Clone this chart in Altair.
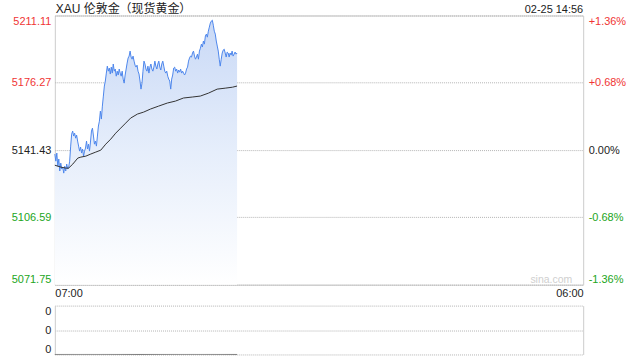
import altair as alt
import pandas as pd
import numpy as np

title_text = "XAU 伦敦金（现货黄金）"
stamp_text = "02-25 14:56"
watermark = "sina.com"
prev_close = 5141.43
y_ticks = [5071.75, 5106.59, 5141.43, 5176.27, 5211.11]
pct_labels = ["-1.36%", "-0.68%", "0.00%", "+0.68%", "+1.36%"]
x_ticks = [0, 1380]
x_labels = ["07:00", "06:00"]
last_minute = 476  # 14:56

prices = [
    5139.4, 5135.7, 5139.9, 5133.1, 5136.8, 5130.6, 5134.7, 5131.6, 5132.6, 5129.5,
    5133.1, 5130.6, 5134.2, 5131.6, 5132.6, 5135.7, 5143.5, 5149.7, 5151.3, 5148.7,
    5150.2, 5147.6, 5149.2, 5146.1, 5143.5, 5140.9, 5143.0, 5139.9, 5142.0, 5138.3,
    5140.9, 5142.5, 5146.1, 5142.0, 5144.5, 5140.9, 5145.6, 5151.3, 5152.8, 5148.7,
    5144.5, 5146.1, 5143.5, 5148.7, 5153.9, 5156.4, 5161.6, 5157.5, 5164.2, 5169.4,
    5174.6, 5177.2, 5181.3, 5184.9, 5182.3, 5183.9, 5180.8, 5184.4, 5181.3, 5186.0,
    5182.3, 5183.4, 5179.7, 5182.3, 5180.3, 5183.4, 5181.3, 5179.7, 5182.3, 5178.2,
    5176.1, 5180.3, 5183.4, 5186.5, 5189.1, 5190.1, 5192.7, 5189.6, 5188.5, 5190.1,
    5187.5, 5185.4, 5184.4, 5185.4, 5182.3, 5180.8, 5177.2, 5173.0, 5176.1, 5182.3,
    5187.5, 5186.0, 5183.4, 5182.3, 5184.9, 5181.3, 5184.4, 5186.0, 5183.4, 5182.3,
    5184.4, 5187.5, 5184.9, 5183.4, 5186.0, 5187.5, 5184.4, 5182.9, 5186.0, 5187.5,
    5184.9, 5182.3, 5181.3, 5182.3, 5179.7, 5178.2, 5177.2, 5173.0, 5178.2, 5180.3,
    5183.9, 5184.4, 5182.3, 5183.4, 5181.3, 5182.9, 5181.8, 5183.4, 5181.3, 5182.3,
    5181.3, 5180.3, 5181.3, 5183.4, 5184.4, 5187.5, 5189.1, 5190.1, 5189.6, 5191.7,
    5192.7, 5190.1, 5188.5, 5189.6, 5191.1, 5188.5, 5192.7, 5194.2, 5196.3, 5194.8,
    5197.9, 5196.3, 5200.5, 5201.5, 5199.9, 5203.0, 5205.1, 5207.2, 5208.2, 5208.7,
    5206.1, 5203.0, 5201.5, 5197.9, 5195.3, 5192.7, 5188.5, 5184.9, 5188.5, 5191.7,
    5193.2, 5193.7, 5191.7, 5189.6, 5192.2, 5191.7, 5189.6, 5191.7, 5190.6, 5192.7,
    5190.1, 5191.1, 5192.2, 5191.1, 5191.7,
]

avg_minutes = [0, 16, 29, 36, 47, 60, 68, 81, 94, 107, 120, 133, 146, 159, 172, 185,
               198, 216, 232, 250, 271, 294, 315, 336, 359, 380, 401, 424, 445, 464, 476]
avg_prices = [5133.6, 5132.6, 5132.1, 5132.1, 5134.2, 5137.3, 5137.8, 5138.3, 5139.4,
              5140.4, 5141.4, 5144.5, 5147.1, 5150.2, 5152.8, 5155.4, 5158.0, 5160.1,
              5161.1, 5162.7, 5164.2, 5165.8, 5166.8, 5168.4, 5168.9, 5169.4, 5170.9,
              5173.0, 5173.5, 5174.0, 5174.6]

volumes = [0] * len(prices)
vol_ticks = [0, 0.5, 1]

minutes = np.linspace(0, last_minute, len(prices))
df = pd.DataFrame({"m": minutes, "p": prices})
avg_df = pd.DataFrame({"m": avg_minutes, "p": avg_prices})
vol_df = pd.DataFrame({"m": minutes, "v": volumes})
one = pd.DataFrame({"k": [0]})

W, H = 530, 270
VH = 49
FONT = "Liberation Sans, Arial, Noto Sans CJK SC"
RED, GREEN, DARK = "#f03535", "#22a522", "#222222"
GRID = "#b4b4b4"
BORDER = "#cccccc"

xscale = alt.Scale(domain=[x_ticks[0], x_ticks[-1]], nice=False, zero=False)
yscale = alt.Scale(domain=[y_ticks[0], y_ticks[-1]], nice=False, zero=False)

x_label_expr = " : ".join(
    f"datum.value == {v} ? '{l}'" for v, l in zip(x_ticks, x_labels)) + " : ''"
pct_expr = " : ".join(
    f"abs(datum.value - {v}) < 0.01 ? '{l}'" for v, l in zip(y_ticks, pct_labels)) + " : ''"
color_expr = (f"datum.value > {prev_close} + 0.01 ? '{RED}' : "
              f"(datum.value < {prev_close} - 0.01 ? '{GREEN}' : '{DARK}')")

x_enc = alt.X("m:Q", scale=xscale, title=None,
              axis=alt.Axis(values=x_ticks, labelExpr=x_label_expr, labelFlush=True,
                            grid=False, domain=False, ticks=False, labelPadding=3,
                            labelFontSize=11, labelColor=DARK, labelFont=FONT))

left_axis = alt.Axis(values=y_ticks, format=".2f", orient="left",
                     labelColor=alt.ExprRef(expr=color_expr), labelFlush=True,
                     grid=True, gridDash=[1, 1], gridColor=GRID, domain=False,
                     ticks=False, labelPadding=4, labelFontSize=11, labelFont=FONT)
right_axis = alt.Axis(values=y_ticks, labelExpr=pct_expr, orient="right",
                      labelColor=alt.ExprRef(expr=color_expr), labelFlush=True,
                      grid=False, domain=False, ticks=False, labelPadding=5,
                      labelFontSize=11, labelFont=FONT)

area = alt.Chart(df).mark_area(
    color=alt.Gradient(gradient="linear",
                       stops=[alt.GradientStop(color="#c9d9f6", offset=0),
                              alt.GradientStop(color="#e6eefb", offset=0.5),
                              alt.GradientStop(color="#ffffff", offset=1)],
                       x1=1, x2=1, y1=0, y2=1),
    opacity=1,
).encode(x=x_enc, y=alt.Y("p:Q", scale=yscale, title=None, axis=left_axis),
         y2=alt.datum(y_ticks[0]))

price_line = alt.Chart(df).mark_line(color="#4d87ec", strokeWidth=1).encode(
    x=x_enc, y=alt.Y("p:Q", scale=yscale, axis=None))

avg_line = alt.Chart(avg_df).mark_line(color="#333333", strokeWidth=1).encode(
    x=x_enc, y=alt.Y("p:Q", scale=yscale, title=None, axis=right_axis))

title_mark = alt.Chart(one).mark_text(
    text=title_text, align="left", baseline="bottom", fontSize=12, font=FONT,
    color=DARK).encode(x=alt.value(1), y=alt.value(0))

stamp = alt.Chart(one).mark_text(
    text=stamp_text, align="right", baseline="bottom", fontSize=11, font=FONT,
    color=DARK).encode(x=alt.value(W), y=alt.value(-1))

mark_wm = alt.Chart(one).mark_text(
    text=watermark, align="right", baseline="middle", fontSize=10.5, font=FONT,
    color="#cfcfcf").encode(x=alt.value(W - 11), y=alt.value(H - 5))

frame_top = alt.Chart(one).mark_rule(strokeWidth=0, opacity=0).encode(
    x=alt.value(-54), x2=alt.value(586), y=alt.value(-14))

main = alt.layer(area, price_line, avg_line, title_mark, stamp, mark_wm,
                 frame_top).resolve_axis(y="independent").properties(
    width=W, height=H,
    view=alt.ViewBackground(stroke=BORDER, strokeWidth=1),
)

vscale = alt.Scale(domain=[vol_ticks[0], vol_ticks[-1]], nice=False, zero=False)
vx = alt.X("m:Q", scale=xscale, axis=None)
vol_line = alt.Chart(vol_df).mark_line(color="#777777", strokeWidth=1).encode(
    x=vx,
    y=alt.Y("v:Q", scale=vscale, title=None,
            axis=alt.Axis(values=vol_ticks, labelExpr="'0'", orient="left", labelFlush=True,
                          grid=True, gridDash=[1, 1], gridColor=GRID, domain=True,
                          domainColor=BORDER, ticks=False, labelPadding=4,
                          labelFontSize=11, labelColor=DARK, labelFont=FONT)))
vol_right = alt.Chart(vol_df).mark_line(opacity=0).encode(
    x=vx,
    y=alt.Y("v:Q", scale=vscale, title=None,
            axis=alt.Axis(values=vol_ticks, labels=False, orient="right", grid=False,
                          domain=True, domainColor=BORDER, ticks=False)))
frame_bot = alt.Chart(one).mark_rule(strokeWidth=0, opacity=0).encode(
    x=alt.value(-54), x2=alt.value(586), y=alt.value(55))

vol = alt.layer(vol_line, vol_right, frame_bot).resolve_axis(y="independent").properties(
    width=W, height=VH, view=alt.ViewBackground(stroke="transparent"))

chart = alt.vconcat(main, vol, spacing=21, bounds="flush").properties(
    padding=0, autosize=alt.AutoSizeParams(type="pad"), background="white"
).configure_view(stroke=None)

chart.save("out.html", embed_options={"renderer": "svg", "actions": False})
